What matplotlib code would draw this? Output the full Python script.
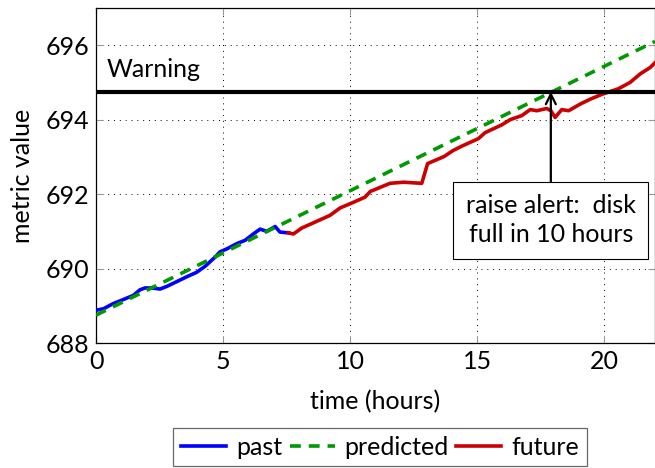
import numpy as np
import matplotlib
matplotlib.use("Agg")
import matplotlib.pyplot as plt

plt.rcParams['font.family'] = ['Lato', 'DejaVu Sans']

# past observations (hours, metric value)
past_t = [0.0, 0.29, 0.68, 1.08, 1.47, 1.73, 1.93, 2.19, 2.52, 2.78, 3.18, 3.57,
          3.96, 4.29, 4.69, 4.88, 5.15, 5.54, 5.87, 6.19, 6.46, 6.72, 7.05, 7.24, 7.57]
past_v = [688.88, 688.92, 689.06, 689.17, 689.28, 689.43, 689.48, 689.48, 689.45,
          689.52, 689.65, 689.78, 689.90, 690.06, 690.31, 690.45, 690.53, 690.67,
          690.76, 690.93, 691.06, 691.00, 691.13, 690.98, 690.96]

# linear prediction
pred_t = [0.0, 22.0]
pred_v = [688.75, 696.1]

# what actually happened
future_t = [7.57, 7.77, 8.10, 8.56, 9.21, 9.61, 10.13, 10.59, 10.79, 11.18, 11.57,
            12.10, 12.82, 13.05, 13.70, 14.05, 14.40, 15.05, 15.31, 15.97, 16.30,
            16.76, 17.09, 17.35, 17.74, 17.90, 18.07, 18.33, 18.60, 19.06, 19.45,
            19.91, 20.56, 21.02, 21.42, 21.81, 22.0]
future_v = [690.96, 690.93, 691.09, 691.23, 691.43, 691.63, 691.78, 691.92, 692.07,
            692.18, 692.29, 692.32, 692.29, 692.82, 693.01, 693.17, 693.29, 693.49,
            693.65, 693.86, 694.00, 694.11, 694.27, 694.24, 694.30, 694.24, 694.06,
            694.27, 694.24, 694.42, 694.55, 694.68, 694.83, 695.00, 695.23, 695.40,
            695.53]

warning_level = 694.75
alert_t = 17.9

fig = plt.figure(figsize=(6.55, 4.68), dpi=100)
ax = fig.add_axes([0.1466, 0.267, 0.8534, 0.716])

ax.plot(past_t, past_v, color='#0000ff', lw=2.6, label='past', zorder=3)
ax.plot(pred_t, pred_v, color='#009900', lw=2.6, ls=(0, (3, 2.2)), label='predicted', zorder=4)
ax.plot(future_t, future_v, color='#cc0000', lw=2.6, label='future', zorder=3)
ax.axhline(warning_level, color='black', lw=3.0, zorder=5)
ax.text(0.4, warning_level + 0.28, 'Warning', fontsize=18, va='bottom', ha='left')

ax.annotate('raise alert:  disk\nfull in 10 hours', xy=(alert_t, warning_level),
            xytext=(alert_t, 691.3), ha='center', va='center', fontsize=18,
            linespacing=1.3,
            bbox=dict(boxstyle='square,pad=0.5', fc='white', ec='black', lw=0.8),
            arrowprops=dict(arrowstyle='->', color='black', lw=1.6,
                            shrinkA=0, shrinkB=0, mutation_scale=18),
            zorder=6)

ax.set_xlim(0, 22)
ax.set_ylim(688, 697)
ax.set_xticks([0, 5, 10, 15, 20])
ax.set_yticks([688, 690, 692, 694, 696])
ax.grid(True, color='black', ls=(0, (1, 5)), lw=0.7)
ax.tick_params(direction='in', length=5, color='#999999', labelsize=18,
               top=True, right=True, pad=5)
for s in ax.spines.values():
    s.set_linewidth(0.9)

ax.set_xlabel('time (hours)', fontsize=18, labelpad=12)
ax.set_ylabel('metric value', fontsize=18, labelpad=8)

leg = ax.legend(loc='upper center', bbox_to_anchor=(0.508, -0.255), ncol=3,
                fontsize=18, frameon=True, fancybox=False, edgecolor='#444444',
                handlelength=1.8, handletextpad=0.4, columnspacing=0.3,
                borderpad=0.3, borderaxespad=0)
leg.get_frame().set_linewidth(0.9)

fig.savefig('out.png', dpi=100)
